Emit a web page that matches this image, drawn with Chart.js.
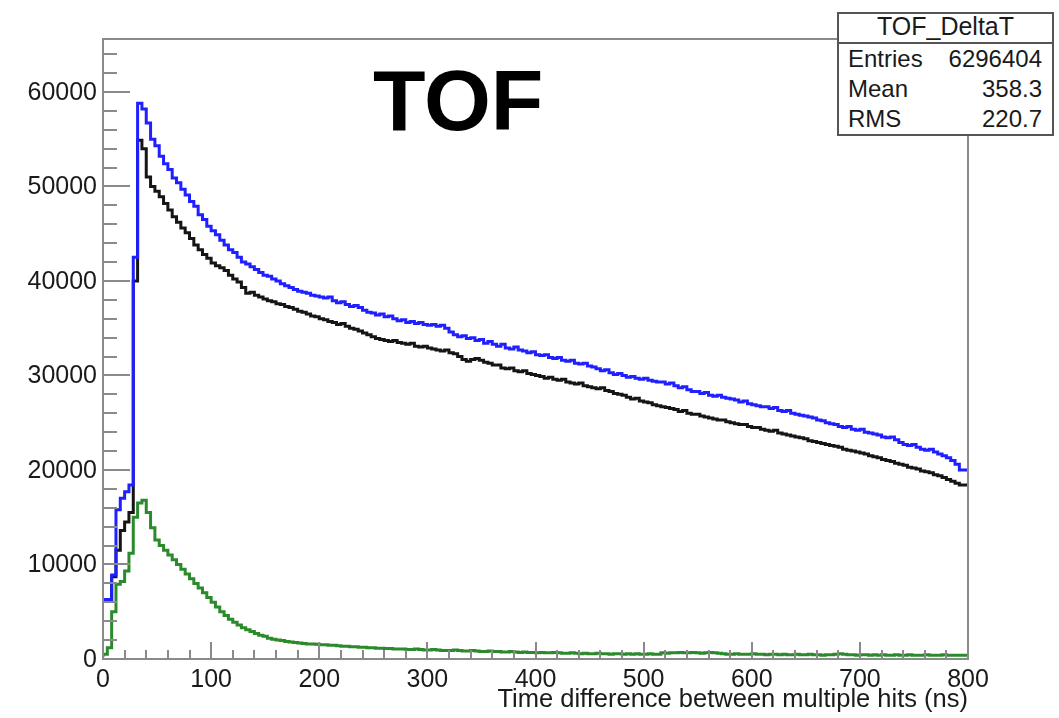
<!DOCTYPE html>
<html>
<head>
<meta charset="utf-8">
<script src="https://cdn.jsdelivr.net/npm/chart.js@4.4.1/dist/chart.umd.min.js"></script>
<style>
  html, body { margin: 0; padding: 0; background: #fff; }
  #wrap { position: relative; width: 1059px; height: 718px; overflow: hidden; }
  #plot { position: absolute; left: 0; top: 0; }
  .txt { font-family: "Liberation Sans", Arial, sans-serif; color: #1a1a1a; }
  #title { position: absolute; left: 373px; top: 57px; font-size: 86px; line-height: 86px; font-weight: bold; color: #000; }
  #stats { position: absolute; left: 837px; top: 12px; width: 217px; box-sizing: border-box;
           border: 2px solid #555; background: #fff; font-size: 24px; }
  #stats .head { height: 24px; line-height: 24px; padding-bottom: 4px; text-align: center; border-bottom: 2px solid #555; font-size: 25px; }
  #stats .row { display: flex; justify-content: space-between; height: 30px; line-height: 30px; padding: 0 10px 0 9px; }
</style>
</head>
<body>
<div id="wrap">
  <canvas id="plot" width="1059" height="718"></canvas>
  <div id="title" class="txt">TOF</div>
  <div id="stats" class="txt">
    <div class="head">TOF_DeltaT</div>
    <div class="row"><span>Entries</span><span>6296404</span></div>
    <div class="row"><span>Mean</span><span>358.3</span></div>
    <div class="row"><span>RMS</span><span>220.7</span></div>
  </div>
</div>
<script>
// histogram binning (ns)
const binWidth = 4;
const xMax = 800;
const yMax = 65600;

// bin contents, one line = 40 ns
const blueCounts = [
  6400, 6300, 6300, 8900, 15800, 17000, 17700, 18400, 42500, 58800,
  58200, 56700, 55000, 54300, 53200, 52400, 51800, 50900, 50400, 49700,
  49100, 48400, 47900, 47000, 46500, 45800, 45300, 44900, 44300, 43800,
  43300, 43000, 42500, 42000, 41800, 41500, 41200, 40900, 40600, 40500,
  40200, 40000, 39700, 39500, 39300, 39100, 38900, 38800, 38700, 38500,
  38400, 38300, 38200, 38300, 37900, 37700, 37800, 37500, 37300, 37400,
  37200, 36900, 36700, 36600, 36400, 36500, 36200, 36300, 36000, 35800,
  35900, 35600, 35700, 35500, 35600, 35400, 35300, 35400, 35200, 35300,
  35000, 34600, 34300, 34100, 34200, 33900, 34000, 33700, 33800, 33400,
  33600, 33300, 33100, 33300, 32900, 32800, 33000, 32700, 32600, 32400,
  32500, 32200, 32100, 32200, 31900, 31800, 31900, 31600, 31500, 31600,
  31300, 31200, 31300, 31000, 30900, 30700, 30500, 30600, 30300, 30100,
  30200, 30000, 29800, 29900, 29700, 29600, 29700, 29500, 29400, 29300,
  29300, 29100, 29200, 28900, 28700, 28800, 28500, 28300, 28300, 28100,
  28200, 27900, 27800, 27900, 27700, 27600, 27500, 27400, 27200, 27300,
  27000, 26900, 26800, 26700, 26700, 26500, 26600, 26300, 26200, 26300,
  26000, 25900, 25800, 25700, 25600, 25500, 25300, 25200, 25000, 24900,
  24800, 24600, 24500, 24600, 24300, 24200, 24300, 24000, 23900, 23800,
  23700, 23500, 23400, 23500, 23200, 22900, 22700, 22600, 22700, 22400,
  22200, 22100, 22200, 21900, 21700, 21500, 21300, 21000, 20600, 20000
];

const blackCounts = [
  6400, 6300, 6300, 8700, 11500, 13600, 14500, 15500, 40000, 54900,
  54000, 51000, 50000, 49500, 48900, 48200, 47500, 46800, 46200, 45600,
  45100, 44500, 43800, 43300, 42800, 42400, 41900, 41600, 41400, 41100,
  40600, 40200, 39900, 39300, 38700, 38800, 38500, 38300, 38100, 37900,
  37800, 37600, 37500, 37300, 37200, 37000, 36800, 36700, 36500, 36300,
  36200, 36000, 35900, 35700, 35600, 35400, 35500, 35200, 35000, 34900,
  34700, 34500, 34300, 34100, 33900, 33800, 33700, 33600, 33700, 33500,
  33400, 33300, 33400, 33100, 33000, 33100, 32900, 32800, 32700, 32600,
  32700, 32400, 32300, 32000, 31700, 31500, 31700, 31800, 31600, 31400,
  31300, 31100, 31100, 30800, 30700, 30800, 30500, 30400, 30500, 30200,
  30100, 30000, 29900, 29700, 29800, 29600, 29500, 29600, 29300, 29200,
  29100, 29200, 28900, 28800, 28700, 28600, 28700, 28400, 28300, 28100,
  28000, 27900, 27700, 27500, 27600, 27300, 27200, 27100, 26900, 26800,
  26700, 26600, 26500, 26400, 26200, 26300, 26000, 25900, 25900, 25700,
  25600, 25500, 25400, 25300, 25300, 25100, 25000, 24900, 24800, 24800,
  24600, 24500, 24500, 24300, 24200, 24100, 24200, 23900, 23800, 23700,
  23600, 23500, 23400, 23300, 23100, 23000, 22900, 22800, 22700, 22600,
  22500, 22400, 22200, 22100, 22000, 21900, 21800, 21700, 21500, 21400,
  21300, 21100, 21000, 20900, 20700, 20600, 20500, 20300, 20200, 20100,
  19900, 19800, 19700, 19500, 19400, 19200, 19000, 18800, 18600, 18400
];

const greenCounts = [
  200, 500, 1200, 5000, 7900, 8200, 9300, 11200, 15000, 16500,
  16800, 15500, 13900, 12600, 12000, 11500, 11000, 10500, 10000, 9500,
  9000, 8500, 8000, 7500, 7000, 6500, 6000, 5500, 5000, 4600,
  4200, 3900, 3600, 3300, 3100, 2900, 2700, 2500, 2400, 2200,
  2100, 2000, 1950, 1850, 1800, 1750, 1700, 1650, 1600, 1600,
  1550, 1500, 1500, 1450, 1450, 1400, 1350, 1350, 1300, 1300,
  1250, 1250, 1200, 1200, 1150, 1150, 1100, 1100, 1050, 1050,
  1050, 1000, 1000, 1050, 1000, 950, 950, 1000, 950, 900,
  900, 900, 950, 900, 850, 850, 900, 850, 800, 800,
  850, 800, 800, 750, 750, 800, 750, 700, 750, 700,
  700, 650, 700, 650, 650, 700, 650, 600, 600, 650,
  600, 550, 600, 550, 550, 600, 550, 550, 500, 550,
  550, 500, 550, 500, 550, 500, 500, 550, 500, 500,
  650, 600, 650, 650, 700, 650, 650, 700, 650, 600,
  650, 700, 650, 600, 550, 500, 500, 550, 500, 500,
  500, 550, 500, 500, 450, 500, 500, 450, 500, 450,
  450, 500, 450, 450, 500, 450, 450, 400, 450, 450,
  500, 550, 500, 450, 450, 400, 450, 450, 400, 450,
  400, 450, 400, 400, 450, 400, 400, 450, 400, 400,
  400, 450, 400, 400, 400, 450, 400, 400, 400, 400
];

const xTickLabels = ['0', '100', '200', '300', '400', '500', '600', '700', '800'];
const yTickLabels = ['0', '10000', '20000', '30000', '40000', '50000', '60000'];
const xMinorStep = 20;
const yMinorStep = 2000;
const xTitle = 'Time difference between multiple hits (ns)';

// turn bin contents into step points (low edges + closing point)
function toSteps(counts) {
  const pts = counts.map((c, i) => ({ x: i * binWidth, y: c }));
  pts.push({ x: counts.length * binWidth, y: counts[counts.length - 1] });
  return pts;
}

const FONT = '"Liberation Sans", Arial, sans-serif';

// ROOT-like frame: ticks inside the frame, labels outside
const rootAxes = {
  id: 'rootAxes',
  afterDraw(chart) {
    const { ctx, chartArea: a, scales: { x, y } } = chart;
    ctx.save();
    ctx.strokeStyle = '#8a8a8a';
    ctx.lineWidth = 2;
    ctx.strokeRect(a.left, a.top, a.right - a.left, a.bottom - a.top);

    ctx.beginPath();
    for (let v = 0; v <= xMax; v += xMinorStep) {
      const px = Math.round(x.getPixelForValue(v));
      const len = v % 100 === 0 ? 17 : 9;
      ctx.moveTo(px, a.bottom);
      ctx.lineTo(px, a.bottom - len);
    }
    for (let v = 0; v <= yMax; v += yMinorStep) {
      const py = Math.round(y.getPixelForValue(v));
      const len = v % 10000 === 0 ? 27 : 14;
      ctx.moveTo(a.left, py);
      ctx.lineTo(a.left + len, py);
    }
    ctx.stroke();

    ctx.fillStyle = '#1a1a1a';
    ctx.font = '25px ' + FONT;
    ctx.textBaseline = 'alphabetic';
    ctx.textAlign = 'center';
    xTickLabels.forEach(t => {
      ctx.fillText(t, x.getPixelForValue(Number(t)), a.bottom + 28);
    });
    ctx.textAlign = 'right';
    ctx.textBaseline = 'middle';
    yTickLabels.forEach(t => {
      ctx.fillText(t, a.left - 6, y.getPixelForValue(Number(t)) + 1);
    });
    ctx.textBaseline = 'alphabetic';
    ctx.font = '25.5px ' + FONT;
    ctx.fillText(xTitle, a.right, a.bottom + 48);
    ctx.restore();
  }
};

const lineStyle = { borderWidth: 3, pointRadius: 0, stepped: 'after', fill: false, tension: 0 };

new Chart(document.getElementById('plot'), {
  type: 'line',
  data: {
    datasets: [
      { label: 'green', data: toSteps(greenCounts), borderColor: '#2b8a2b', ...lineStyle },
      { label: 'blue', data: toSteps(blueCounts), borderColor: '#1f1fff', ...lineStyle },
      { label: 'black', data: toSteps(blackCounts), borderColor: '#151515', ...lineStyle }
    ]
  },
  options: {
    responsive: false,
    devicePixelRatio: 1,
    animation: false,
    layout: { padding: { left: 103, right: 91, top: 39, bottom: 59 } },
    plugins: { legend: { display: false }, tooltip: { enabled: false } },
    scales: {
      x: { type: 'linear', min: 0, max: xMax, display: false },
      y: { type: 'linear', min: 0, max: yMax, display: false }
    }
  },
  plugins: [rootAxes]
});
</script>
</body>
</html>
